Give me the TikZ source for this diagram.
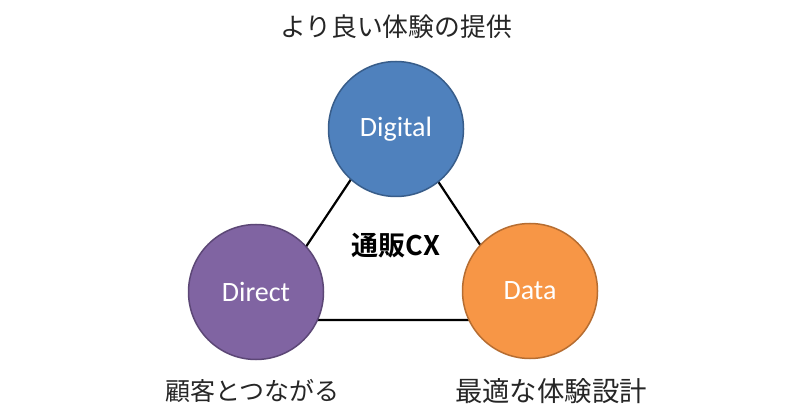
\documentclass[tikz,border=0pt]{standalone}
\usepackage{fontspec}
\newfontfamily\jpfont{Noto Sans CJK JP}
\newfontfamily\jpbold{Noto Sans CJK JP Bold}
\newfontfamily\calfont{Carlito}
\definecolor{cblue}{HTML}{4F81BD}
\definecolor{cblueb}{HTML}{385D8A}
\definecolor{cpurp}{HTML}{8064A2}
\definecolor{cpurpb}{HTML}{5C4776}
\definecolor{corng}{HTML}{F79646}
\definecolor{corngb}{HTML}{B66D31}
\tikzset{
  ball/.style={circle, minimum size=135pt, inner sep=0pt, line width=1.5pt,
    text=white, font=\calfont\fontsize{28}{30}\selectfont},
  link/.style={line width=2.2pt, black},
  jplabel/.style={font=\jpfont\fontsize{25}{28}\selectfont, text=black!85, inner sep=0pt},
}
\begin{document}
\begin{tikzpicture}[x=1pt,y=-1pt]
\useasboundingbox[fill=white] (0,0) rectangle (800,419);
\coordinate (tv) at (394,115);
\coordinate (blv) at (257,320);
\coordinate (brv) at (530,320);
\draw[link] (tv) -- (blv) -- (brv) -- cycle;
\node[ball, fill=cblue, draw=cblueb] (dig) at (396,129) {Digital};
\node[ball, fill=cpurp, draw=cpurpb] (dir) at (256,292) {Direct};
\node[ball, fill=corng, draw=corngb] (dat) at (530,291) {Data};
\node[font=\jpbold\fontsize{27}{30}\selectfont, inner sep=0pt] (cx) at (396,246) {通販CX};
\node[jplabel, font=\jpfont\fontsize{25.8}{28}\selectfont] (top) at (396,27) {より良い体験の提供};
\node[jplabel] (bl) at (252,391) {顧客とつながる};
\node[jplabel, font=\jpfont\fontsize{27.4}{30}\selectfont] (br) at (551,391) {最適な体験設計};
\end{tikzpicture}
\end{document}
